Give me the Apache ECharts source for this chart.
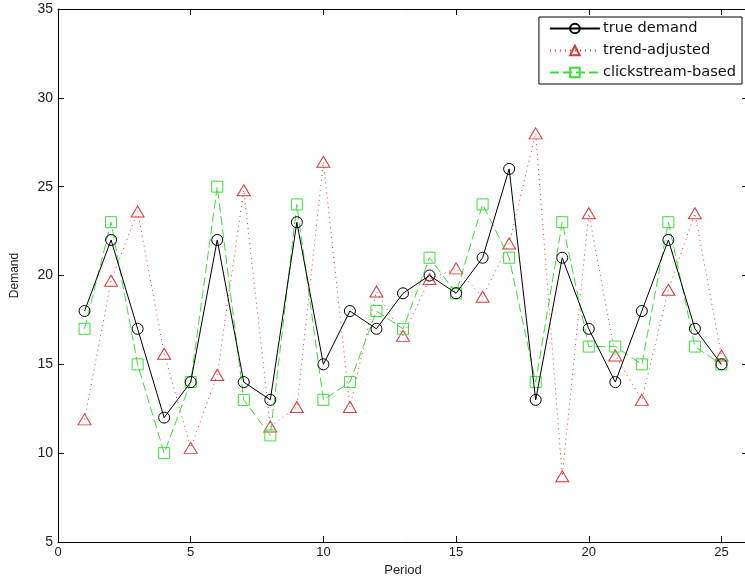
<!DOCTYPE html>
<html>
<head>
<meta charset="utf-8">
<script src="https://cdn.jsdelivr.net/npm/echarts@6/dist/echarts.min.js"></script>
<style>
html, body { margin: 0; padding: 0; background: #fff; overflow: hidden; }
#chart { width: 745px; height: 579px; }
</style>
</head>
<body>
<div id="chart"></div>
<script>
// data
var periods = [1, 2, 3, 4, 5, 6, 7, 8, 9, 10, 11, 12, 13, 14, 15, 16, 17, 18, 19, 20, 21, 22, 23, 24, 25];
var trueDemand = [18, 22, 17, 12, 14, 22, 14, 13, 23, 15, 18, 17, 19, 20, 19, 21, 26, 13, 21, 17, 14, 18, 22, 17, 15];
var trendAdjusted = [11.9, 19.7, 23.6, 15.6, 10.3, 14.4, 24.8, 11.5, 12.6, 26.4, 12.6, 19.1, 16.6, 19.8, 20.4, 18.8, 21.8, 28.0, 8.7, 23.5, 15.5, 13.0, 19.2, 23.5, 15.5];
var clickstream = [17, 23, 15, 10, 14, 25, 13, 11, 24, 13, 14, 18, 17, 21, 19, 24, 21, 14, 23, 16, 16, 15, 23, 16, 15];
var xTicks = [0, 5, 10, 15, 20, 25];
var yTicks = [5, 10, 15, 20, 25, 30, 35];

function pairs(vals) {
    var out = [];
    for (var i = 0; i < periods.length; i++) {
        out.push([periods[i], vals[i]]);
    }
    return out;
}

var myChart = echarts.init(document.getElementById('chart'));
var font = 'Liberation Sans, Arial, sans-serif';
var axisLine = { show: true, onZero: false, lineStyle: { color: '#000', width: 1 } };

var option = {
    backgroundColor: '#fff',
    animation: false,
    // plot box runs a little past the right edge of the picture (x max 26)
    grid: { left: 58, top: 9, width: 690, height: 533, containLabel: false, outerBoundsMode: 'none' },
    legend: {
        right: 3, top: 17,
        orient: 'vertical',
        backgroundColor: '#fff',
        borderColor: '#000',
        borderWidth: 1,
        padding: [4, 6, 4, 10],
        itemGap: 7,
        itemWidth: 50,
        itemHeight: 12,
        textStyle: { fontFamily: 'DejaVu Sans, sans-serif', fontSize: 14.6, color: '#111', padding: [0, 0, 0, -2] },
        data: ['true demand', 'trend-adjusted', 'clickstream-based']
    },
    xAxis: [{
        type: 'value', min: 0, max: 26, interval: 5,
        name: 'Period', nameLocation: 'middle', nameGap: 19,
        nameTextStyle: { fontFamily: font, fontSize: 13, color: '#222' },
        axisLine: axisLine,
        axisTick: { inside: true, length: 6, lineStyle: { color: '#000' } },
        axisLabel: {
            color: '#222', fontFamily: font, fontSize: 13, margin: 4,
            formatter: function(v) { return xTicks.indexOf(v) >= 0 ? String(v) : ''; }
        },
        splitLine: { show: false }
    }, {
        type: 'value', min: 0, max: 26, interval: 5, position: 'top',
        axisLine: axisLine,
        axisTick: { inside: true, length: 6, lineStyle: { color: '#000' } },
        axisLabel: { show: false },
        splitLine: { show: false }
    }],
    yAxis: [{
        type: 'value', min: 5, max: 35, interval: 5,
        name: 'Demand', nameLocation: 'middle', nameGap: 37, nameRotate: 90,
        nameTextStyle: { fontFamily: font, fontSize: 12, color: '#222' },
        axisLine: axisLine,
        axisTick: { inside: true, length: 6, lineStyle: { color: '#000' } },
        axisLabel: {
            color: '#222', fontFamily: font, fontSize: 14, margin: 5,
            formatter: function(v) { return yTicks.indexOf(v) >= 0 ? String(v) : ''; }
        },
        splitLine: { show: false }
    }, {
        type: 'value', min: 5, max: 35, interval: 5, position: 'right',
        axisLine: axisLine,
        axisTick: { inside: true, length: 6, lineStyle: { color: '#000' } },
        axisLabel: { show: false },
        splitLine: { show: false }
    }],
    series: [{
        name: 'true demand',
        type: 'line',
        data: pairs(trueDemand),
        symbol: 'circle',
        symbolSize: 11,
        lineStyle: { color: '#000', width: 1, type: 'solid' },
        itemStyle: { color: 'rgba(0,0,0,0)', borderColor: '#000', borderWidth: 1 },
        z: 4
    }, {
        name: 'trend-adjusted',
        type: 'line',
        data: pairs(trendAdjusted),
        symbol: 'triangle',
        symbolSize: [13, 11],
        lineStyle: { color: '#d63a3a', width: 1, type: [1, 4] },
        itemStyle: { color: 'rgba(0,0,0,0)', borderColor: '#d63a3a', borderWidth: 1 },
        z: 2
    }, {
        name: 'clickstream-based',
        type: 'line',
        data: pairs(clickstream),
        symbol: 'rect',
        symbolSize: 11,
        lineStyle: { color: '#3ddc3d', width: 1, type: [9, 4] },
        itemStyle: { color: 'rgba(0,0,0,0)', borderColor: '#3ddc3d', borderWidth: 1 },
        z: 3
    }]
};
myChart.setOption(option);
</script>
</body>
</html>
